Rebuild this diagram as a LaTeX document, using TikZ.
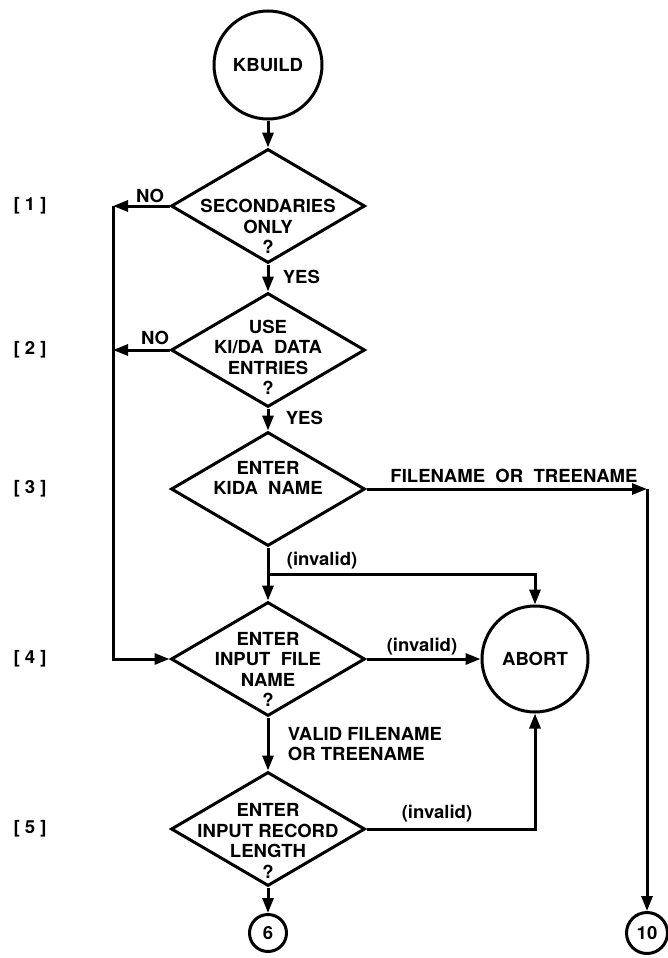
\documentclass[tikz,border=0pt]{standalone}
\usepackage{fontspec}
\newfontfamily\lettering[FakeStretch=1.03]{TeX Gyre Heros}
\usetikzlibrary{shapes.geometric}
\usetikzlibrary{arrows.meta}
\tikzset{>={Triangle[length=15pt,width=11pt]}}

\begin{document}
\begin{tikzpicture}[x=1pt, y=-1pt, line width=3pt,
  every node/.style={font=\lettering\bfseries\fontsize{18}{20.5}\selectfont, align=center},
  term/.style={draw, circle, inner sep=0pt},
  ask/.style={draw, diamond, minimum width=194pt, minimum height=114pt, inner sep=0pt}]
  \useasboundingbox (0,0) rectangle (668,958);
  \node [term, minimum size=108pt] (kb) at (268,65) {KBUILD};
  \node [ask] (d1) at (268,206) {};
  \node [ask] (d2) at (268,350) {};
  \node [ask] (d3) at (268,489) {};
  \node [ask] (d4) at (268,659) {};
  \node [ask] (d5) at (268,829) {};
  \node [term, minimum size=106pt] (abort) at (535,659) {ABORT};
  \node [term, minimum size=37pt] (c6) at (268,933) {6};
  \node [term, minimum size=41pt] (c10) at (647,933) {10};
  %% texts in the decisions
  \node (t1) at (268,226.5) {SECONDARIES\\ONLY\\?};
  \node (t2) at (268,357.5) {USE\\KI/DA~~DATA\\ENTRIES\\?};
  \node (t3) at (268,478) {ENTER\\KIDA~~NAME};
  \node (t4) at (268,669.5) {ENTER\\INPUT~~FILE\\NAME\\?};
  \node (t5) at (268,841) {ENTER\\INPUT RECORD\\LENGTH\\?};
  %% step numbers
  \foreach \k/\yy in {1/206, 2/350, 3/489, 4/659, 5/829}
    \node (s\k) at (30,\yy) {[~\k~]};
  %% Arrows
  \coordinate (bus) at (113,206);
  \coordinate (j) at (268,574);
  \coordinate (turn) at (647,489);
  \draw [->] (kb.south) -- (d1.north);
  \draw [->] (d1.south) -- (d2.north);
  \draw [->] (d2.south) -- (d3.north);
  \draw (d3.south) -- (j);
  \draw [->] (j) -- (d4.north);
  \draw [->] (j) -| (abort.north);
  \draw [->] (d4.south) -- (d5.north);
  \draw [->] (d5.south) -- (c6.north);
  \draw [->] (d4.east) -- (abort.west);
  \draw [->] (d5.east) -| (abort.south);
  \draw [->] (d1.west) -- (bus);
  \draw [->] (d2.west) -- (d2.west -| bus);
  \draw [->] (bus) |- (d4.west);
  \draw [->] (d3.east) -- (turn);
  \draw [->] (turn) -- (c10.north);
  %% branch labels
  \node (no1) at (150,196) {NO};
  \node [anchor=west] (yes1) at (278,277) {YES};
  \node (no2) at (155,338) {NO};
  \node [anchor=west] (yes2) at (281,418) {YES};
  \node (fn) at (514,476) {FILENAME~~OR~~TREENAME};
  \node [anchor=west] (inv1) at (282,561) {(invalid)};
  \node (inv2) at (422,647) {(invalid)};
  \node (inv3) at (437,814) {(invalid)};
  \node [anchor=west, align=left] (vf) at (283,744) {VALID FILENAME\\OR TREENAME};
\end{tikzpicture}
\end{document}
